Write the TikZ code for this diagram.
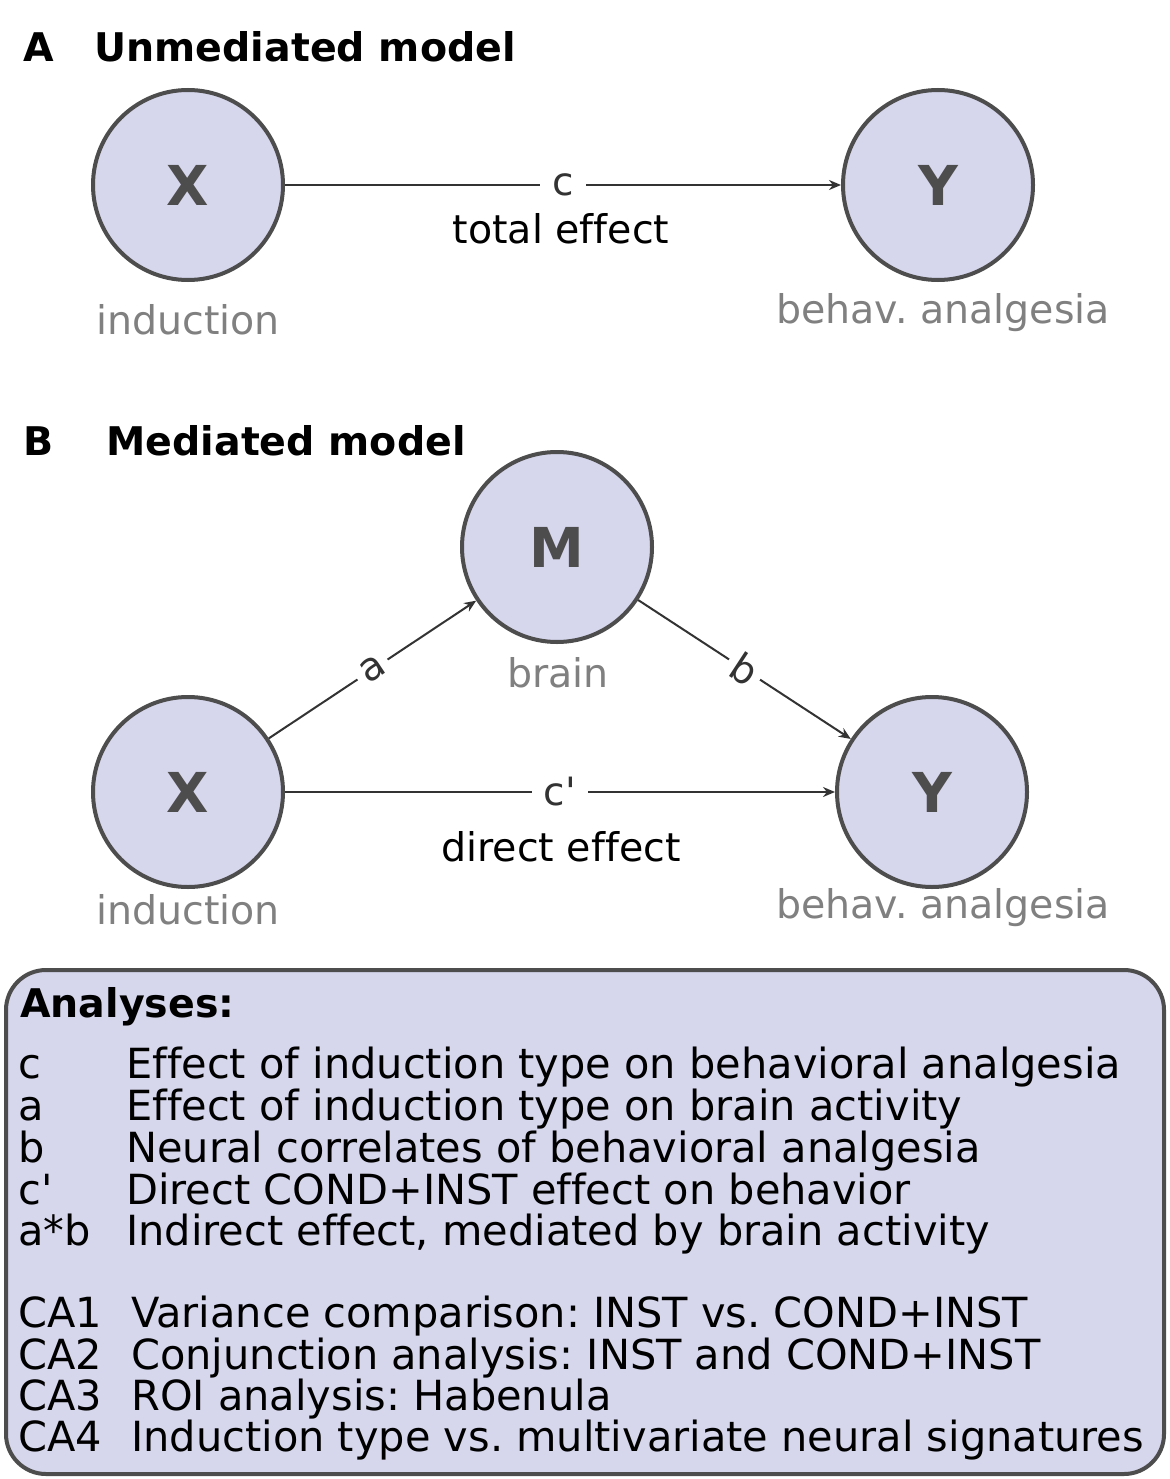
\documentclass[tikz,border=0pt]{standalone}
\usepackage{fontspec}
\setmainfont{DejaVu Sans}[Ligatures={TeXOff,CommonOff}]
\usetikzlibrary{arrows.meta}
\frenchspacing
\definecolor{nodefill}{HTML}{D6D6EC}
\definecolor{nodeline}{HTML}{4D4D4D}
\definecolor{lbl}{HTML}{808080}
\definecolor{conn}{HTML}{333333}
\tikzset{
  var/.style={circle, draw=nodeline, line width=4pt, fill=nodefill, minimum size=190pt, inner sep=0pt,
    font=\fontsize{55}{60}\selectfont\bfseries, text=nodeline},
  sub/.style={text=lbl, font=\fontsize{39.5}{42}\selectfont},
  title/.style={anchor=base west, font=\fontsize{39.5}{44}\selectfont\bfseries},
  path/.style={draw=conn, line width=2pt, -{Stealth[length=12pt,width=10pt]}},
  plab/.style={fill=white, inner sep=12pt, text=conn, font=\fontsize{39}{40}\selectfont},
  eff/.style={font=\fontsize{39.5}{42}\selectfont},
  boxtxt/.style={anchor=base west, font=\fontsize{41.5}{44}\selectfont, inner sep=0pt}
}
\begin{document}
\begin{tikzpicture}[x=1pt,y=-1pt]
\useasboundingbox (0,0) rectangle (1169,1479);
% Panel A
\node[title] (tA) at (20,62) {A};
\node[title] (tA2) at (91,62) {Unmediated model};
\node[var] (XA) at (188,185) {X};
\node[var] (YA) at (938,185) {Y};
\node[sub] (iA) at (188,320) {induction};
\node[sub] (bA) at (943,313) {behav. analgesia};
\draw[path] (XA) -- node[plab] (cA) {c} (YA);
\node[eff] (teA) at (561,229) {total effect};
% Panel B
\node[title] (tB) at (20,455) {B};
\node[title] (tB2) at (103,455) {Mediated model};
\node[var] (M) at (557,547) {M};
\node[var] (XB) at (188,792) {X};
\node[var] (YB) at (932,792) {Y};
\node[sub] (br) at (558,673) {brain};
\node[sub] (iB) at (188,910) {induction};
\node[sub] (bB) at (943,908) {behav. analgesia};
\draw[path] (XB) -- node[plab, sloped, inner sep=6pt, pos=0.5, yshift=0pt] (la) {a} (M);
\draw[path] (M) -- node[plab, sloped, inner sep=6pt] (lb) {b} (YB);
\draw[path] (XB) -- node[plab] (lc) {c'} (YB);
\node[eff] (deB) at (561,847) {direct effect};
% Analyses box
\draw[draw=nodeline, line width=4pt, fill=nodefill, rounded corners=40pt] (6,970) rectangle (1164,1474);
\node[boxtxt, font=\fontsize{39.5}{42}\selectfont\bfseries] (an) at (20,1017) {Analyses:};
\node[boxtxt] (k1) at (18,1078) {c};
\node[boxtxt] (v1) at (126,1078) {Effect of induction type on behavioral analgesia};
\node[boxtxt] (k2) at (18,1120) {a};
\node[boxtxt] (v2) at (126,1120) {Effect of induction type on brain activity};
\node[boxtxt] (k3) at (18,1162) {b};
\node[boxtxt] (v3) at (126,1162) {Neural correlates of behavioral analgesia};
\node[boxtxt] (k4) at (18,1204) {c'};
\node[boxtxt] (v4) at (126,1204) {Direct COND+INST effect on behavior};
\node[boxtxt] (k5) at (18,1245) {a*b};
\node[boxtxt] (v5) at (126,1245) {Indirect effect, mediated by brain activity};
\node[boxtxt] (k6) at (18,1327) {CA1};
\node[boxtxt] (v6) at (131,1327) {Variance comparison: INST vs. COND+INST};
\node[boxtxt] (k7) at (18,1369) {CA2};
\node[boxtxt] (v7) at (131,1369) {Conjunction analysis: INST and COND+INST};
\node[boxtxt] (k8) at (18,1410) {CA3};
\node[boxtxt] (v8) at (131,1410) {ROI analysis: Habenula};
\node[boxtxt] (k9) at (18,1451) {CA4};
\node[boxtxt] (v9) at (131,1451) {Induction type vs. multivariate neural signatures};
\end{tikzpicture}
\end{document}
